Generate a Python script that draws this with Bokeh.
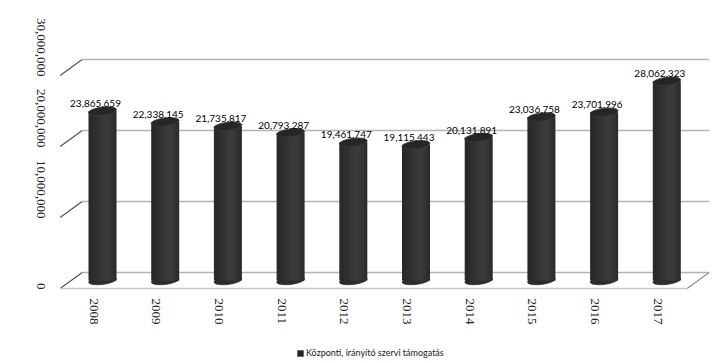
import math
from bokeh.plotting import figure
from bokeh.models import ColumnDataSource, Legend, LegendItem
from bokeh.core.properties import value
from bokeh.embed import file_html
from bokeh.resources import INLINE

# ---- data ----
years = ["2008", "2009", "2010", "2011", "2012", "2013", "2014", "2015", "2016", "2017"]
values = [23865659, 22338145, 21735817, 20793287, 19461747, 19115443, 20131891, 23036758, 23701996, 28062323]
y_ticks = [0, 10000000, 20000000, 30000000]
y_tick_labels = ["0", "10,000,000", "20,000,000", "30,000,000"]
series_name = "Központi, irányító szervi támogatás"

# ---- layout ----
W, H = 727, 363
PXX = 62.7          # px per category
PXY = 7.1e-6        # px per unit of value
x0 = -91 / PXX
y0 = -(H - 288) / PXY
DX = 22 / PXX       # depth offset (category units)
DY = 16 / PXY       # depth offset (value units)
SERIF = value("'Liberation Serif', 'Times New Roman', serif")

p = figure(width=W, height=H, output_backend="svg", toolbar_location=None,
           x_range=(x0, x0 + W / PXX), y_range=(y0, y0 + H / PXY),
           min_border=0, outline_line_color=None)
p.axis.visible = False
p.grid.visible = False
p.background_fill_color = "white"
p.border_fill_color = "white"

n = len(years)
xi = list(range(n))
left, right = -0.5, n - 0.5

# back wall gridlines
p.segment(x0=[left + DX] * len(y_ticks), y0=[t + DY for t in y_ticks],
          x1=[right + DX] * len(y_ticks), y1=[t + DY for t in y_ticks],
          line_color="#b4b4b4", line_width=1.6)
# left wall diagonals
p.segment(x0=[left] * len(y_ticks), y0=y_ticks,
          x1=[left + DX] * len(y_ticks), y1=[t + DY for t in y_ticks],
          line_color="#505050", line_width=1.2)
# floor front edge and right edge
p.segment(x0=[left], y0=[0], x1=[right], y1=[0], line_color="#c8c8c8", line_width=1.4)
p.segment(x0=[right], y0=[0], x1=[right + DX], y1=[DY], line_color="#909090", line_width=1.2)

# cylinders at mid depth
cx = [i + DX / 2 for i in xi]
base = DY / 2
tops = [v + base for v in values]
CW = 28 / PXX

p.ellipse(x=cx, y=[base] * n, width=28, height=8, width_units="screen", height_units="screen",
          angle=0.12, fill_color="#2c2c2c", line_color="#242424", line_width=0.6)
# body: nested bars, lighter towards the highlight, for a soft shading
layers = [(1.00, 0.00, "#292929"), (0.80, 0.06, "#2e2e2e"), (0.58, 0.10, "#333333"),
          (0.38, 0.12, "#373737"), (0.20, 0.13, "#3a3a3a")]
for frac, shift, col in layers:
    p.vbar(x=[c + shift * CW for c in cx], bottom=[base] * n, top=tops, width=CW * frac,
           fill_color=col, line_color=None)
p.ellipse(x=cx, y=tops, width=28, height=8, width_units="screen", height_units="screen",
          angle=0.12, fill_color="#262626", line_color="#3a3a3a", line_width=0.8)

# data labels
src = ColumnDataSource(dict(x=[c - 7 / PXX for c in cx], y=tops,
                            t=["{:,}".format(v) for v in values]))
p.text(x="x", y="y", text="t", source=src, text_align="center", text_baseline="bottom",
       y_offset=-4, text_font=value("Lato"), text_font_size="10px", text_color="#000000")

# y tick labels (rotated)
p.text(x=[left] * len(y_ticks), y=y_ticks, text=y_tick_labels, angle=-math.pi / 2,
       x_offset=-19, y_offset=1, text_align="right", text_baseline="middle",
       text_font=SERIF, text_font_size="13px", text_color="#222222")

# x tick labels (rotated)
p.text(x=xi, y=[0] * n, text=years, angle=-math.pi / 2, x_offset=2, y_offset=10,
       text_align="left", text_baseline="middle",
       text_font=SERIF, text_font_size="13px", text_color="#222222")

# legend
dummy = p.vbar(x=[0], bottom=[0], top=[0], width=0.0, fill_color="#262626", line_color=None)
legend = Legend(items=[LegendItem(label=series_name, renderers=[dummy])],
                location=(296, 5), orientation="horizontal",
                glyph_width=8, glyph_height=8, label_standoff=2, label_height=8,
                label_text_font="Lato", label_text_font_size="9px", label_text_color="#222222",
                padding=0, margin=0, spacing=0, border_line_color=None,
                background_fill_alpha=0)
p.add_layout(legend, "center")

open("out.html", "w").write(file_html(p, INLINE))
